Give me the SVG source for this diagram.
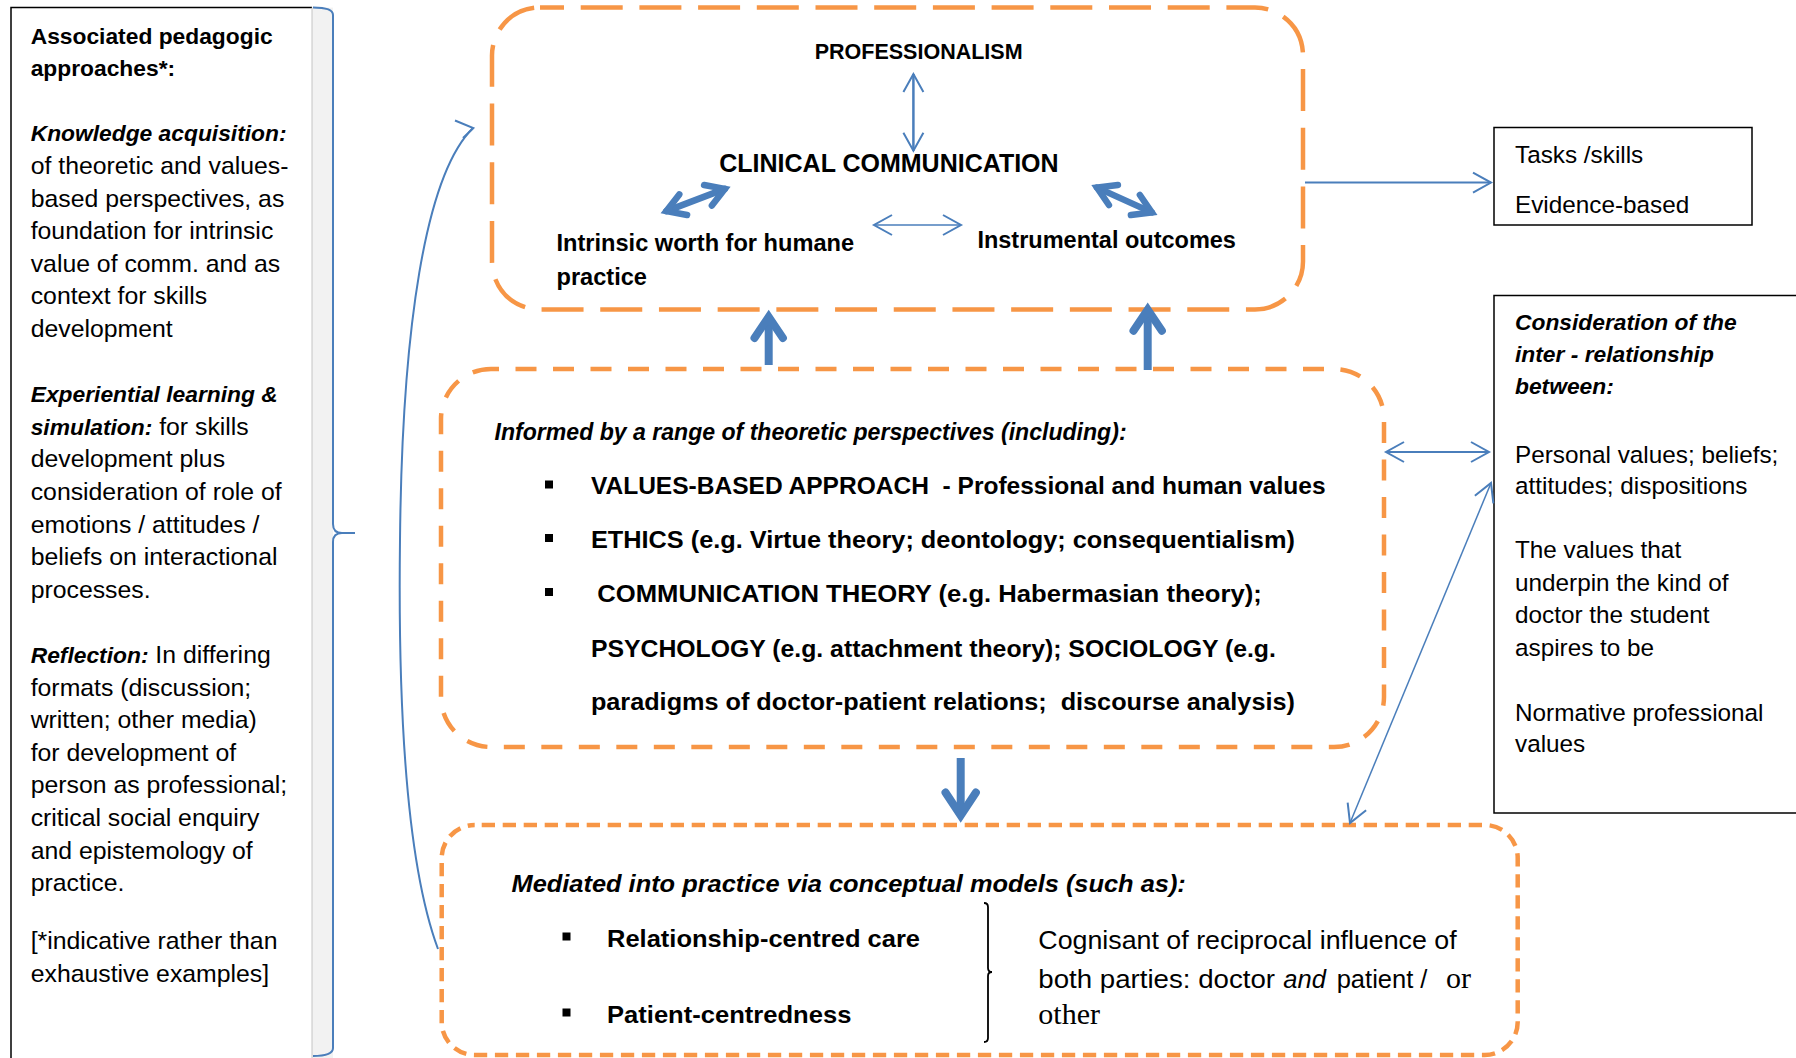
<svg xmlns="http://www.w3.org/2000/svg" width="1796" height="1058" viewBox="0 0 1796 1058">
<style>
text{font-family:"Liberation Sans",Arial,sans-serif;fill:#000}
.lr{font-size:24.8px}
.rr{font-size:24.3px}
.lb{font-size:22.8px;font-weight:bold}
.lbi{font-size:22.8px;font-weight:bold;font-style:italic}
.c{font-weight:bold}
.ci{font-weight:bold;font-style:italic}
.sf{font-family:"Liberation Serif","Times New Roman",serif}
.ob{fill:none;stroke:#F79646;stroke-width:4.5}
.d1{stroke-dasharray:42 16.7;stroke-dashoffset:18}
.d2{stroke-dasharray:21 16.5;stroke-dashoffset:13}
.d3{stroke-dasharray:13.3 7.7;stroke-dashoffset:14}
.bx{fill:#fff;stroke:#000;stroke-width:1.5}
.ln{fill:none;stroke:#4A7EBB}
.thk{fill:none;stroke:#4A7EBB;stroke-linecap:round;stroke-linejoin:miter}
.bul{fill:#000}
</style>
<defs>
<marker id="ah" viewBox="-21 -12 24 24" refX="0" refY="0" markerWidth="24" markerHeight="24" markerUnits="userSpaceOnUse" orient="auto-start-reverse" style="overflow:visible">
<path d="M-18,-10 L0,0 L-18,10" fill="none" stroke="#4A7EBB" stroke-width="2"/>
</marker>
</defs>
<rect width="1796" height="1058" fill="#fff"/>

<g id="left-panel">
<path d="M312,7.6 H11 V1062" fill="none" stroke="#000" stroke-width="1.5"/>
<rect x="312" y="7.6" width="21" height="1052" fill="#F2F2F2"/>
<line x1="312" y1="7.6" x2="312" y2="1058" stroke="#C4C4C4" stroke-width="1"/>
<text x="30.7" y="43.5" class="lb">Associated pedagogic</text>
<text x="30.7" y="76.1" class="lb">approaches*:</text>
<text x="30.7" y="141.3" class="lbi">Knowledge acquisition:</text>
<text x="30.7" y="173.9" class="lr">of theoretic and values-</text>
<text x="30.7" y="206.5" class="lr">based perspectives, as</text>
<text x="30.7" y="239.1" class="lr">foundation for intrinsic</text>
<text x="30.7" y="271.7" class="lr">value of comm. and as</text>
<text x="30.7" y="304.3" class="lr">context for skills</text>
<text x="30.7" y="336.9" class="lr">development</text>
<text x="30.7" y="402.1" class="lbi">Experiential learning &amp;</text>
<text x="30.7" y="434.7"><tspan class="lbi">simulation:</tspan><tspan class="lr"> for skills</tspan></text>
<text x="30.7" y="467.3" class="lr">development plus</text>
<text x="30.7" y="499.9" class="lr">consideration of role of</text>
<text x="30.7" y="532.5" class="lr">emotions / attitudes /</text>
<text x="30.7" y="565.1" class="lr">beliefs on interactional</text>
<text x="30.7" y="597.7" class="lr">processes.</text>
<text x="30.7" y="662.9"><tspan class="lbi">Reflection:</tspan><tspan class="lr"> In differing</tspan></text>
<text x="30.7" y="695.5" class="lr">formats (discussion;</text>
<text x="30.7" y="728.1" class="lr">written; other media)</text>
<text x="30.7" y="760.7" class="lr">for development of</text>
<text x="30.7" y="793.3" class="lr">person as professional;</text>
<text x="30.7" y="825.9" class="lr">critical social enquiry</text>
<text x="30.7" y="858.5" class="lr">and epistemology of</text>
<text x="30.7" y="891.1" class="lr">practice.</text>
<text x="30.7" y="949" class="lr">[*indicative rather than</text>
<text x="30.7" y="981.6" class="lr">exhaustive examples]</text>
</g>

<g id="top-box">
<rect class="ob d1" x="492" y="7.5" width="811" height="302" rx="48" ry="48"/>
<text x="814.7" y="59.3" class="c" font-size="21.5">PROFESSIONALISM</text>
<text x="719.3" y="171.7" class="c" font-size="25">CLINICAL COMMUNICATION</text>
<text x="556.5" y="250.7" class="c" font-size="23.6">Intrinsic worth for humane</text>
<text x="556.5" y="285" class="c" font-size="23.6">practice</text>
<text x="977.4" y="248" class="c" font-size="23.5">Instrumental outcomes</text>
</g>

<g id="middle-box">
<rect class="ob d2" x="441" y="369" width="943" height="378" rx="50" ry="50"/>
<text x="494.6" y="440" class="ci" font-size="23" textLength="632" lengthAdjust="spacingAndGlyphs">Informed by a range of theoretic perspectives (including):</text>
<rect class="bul" x="545" y="480.5" width="8" height="8"/>
<rect class="bul" x="545" y="534" width="8" height="8"/>
<rect class="bul" x="545" y="588" width="8" height="8"/>
<text x="590.9" y="494" class="c" font-size="24" textLength="734.7" lengthAdjust="spacingAndGlyphs" xml:space="preserve">VALUES-BASED APPROACH  - Professional and human values</text>
<text x="590.9" y="548.3" class="c" font-size="24" textLength="704" lengthAdjust="spacingAndGlyphs">ETHICS (e.g. Virtue theory; deontology; consequentialism)</text>
<text x="597.3" y="602.3" class="c" font-size="24" textLength="664.5" lengthAdjust="spacingAndGlyphs">COMMUNICATION THEORY (e.g. Habermasian theory);</text>
<text x="590.9" y="656.7" class="c" font-size="24" textLength="685" lengthAdjust="spacingAndGlyphs">PSYCHOLOGY (e.g. attachment theory); SOCIOLOGY (e.g.</text>
<text x="590.9" y="710" class="c" font-size="24" textLength="704" lengthAdjust="spacingAndGlyphs" xml:space="preserve">paradigms of doctor-patient relations;  discourse analysis)</text>
</g>

<g id="bottom-box">
<rect class="ob d3" x="441.7" y="825" width="1076" height="230" rx="33" ry="33"/>
<text x="511.5" y="891.7" class="ci" font-size="24" textLength="674.3" lengthAdjust="spacingAndGlyphs">Mediated into practice via conceptual models (such as):</text>
<rect class="bul" x="562.5" y="932.5" width="8" height="8"/>
<rect class="bul" x="562.5" y="1008.5" width="8" height="8"/>
<text x="607" y="946.7" class="c" font-size="24" textLength="313" lengthAdjust="spacingAndGlyphs">Relationship-centred care</text>
<text x="607" y="1023" class="c" font-size="24" textLength="244.4" lengthAdjust="spacingAndGlyphs">Patient-centredness</text>
<path d="M984,903 Q988,903 988,907 L988,968 Q988,972 992,972 Q988,972 988,976 L988,1038 Q988,1042 984,1042" fill="none" stroke="#000" stroke-width="1.8"/>
<text x="1038.3" y="949.3" font-size="25.5" textLength="418.4" lengthAdjust="spacingAndGlyphs">Cognisant of reciprocal influence of</text>
<text x="1038.3" y="987.7" font-size="25.5" textLength="236.7" lengthAdjust="spacingAndGlyphs">both parties: doctor</text>
<text x="1283.3" y="987.7" font-size="25.5" font-style="italic">and</text>
<text x="1336.7" y="987.7" font-size="25.5">patient /</text>
<text x="1446" y="987.7" class="sf" font-size="30">or</text>
<text x="1038.3" y="1024" class="sf" font-size="30">other</text>
</g>

<g id="tasks-box">
<rect class="bx" x="1494" y="127.5" width="258" height="97.5"/>
<text x="1515" y="163.4" class="rr">Tasks /skills</text>
<text x="1515" y="212.5" class="rr">Evidence-based</text>
</g>

<g id="consideration-box">
<rect class="bx" x="1494" y="295.5" width="320" height="517.5"/>
<text x="1515" y="329.6" class="lbi">Consideration of the</text>
<text x="1515" y="361.7" class="lbi">inter - relationship</text>
<text x="1515" y="393.8" class="lbi">between:</text>
<text x="1515" y="462.7" class="rr">Personal values; beliefs;</text>
<text x="1515" y="494" class="rr">attitudes; dispositions</text>
<text x="1515" y="558" class="rr">The values that</text>
<text x="1515" y="591" class="rr">underpin the kind of</text>
<text x="1515" y="623" class="rr">doctor the student</text>
<text x="1515" y="655.6" class="rr">aspires to be</text>
<text x="1515" y="720.8" class="rr">Normative professional</text>
<text x="1515" y="752" class="rr">values</text>
</g>

<g id="connectors">
<path class="ln" stroke-width="2" d="M313,7.6 Q333,7.6 333,15 L333,524 Q333,533 342,533 L355,533 M342,533 Q333,533 333,542 L333,1048 Q333,1056 313,1056"/>
<path class="ln" stroke-width="2" d="M438,949 C405,860 398,700 400,540 C402,330 425,175 473,128"/>
<path class="ln" stroke-width="2" d="M455,120.5 L473.3,128.1 L463,138"/>
<line class="ln" x1="913.4" y1="74" x2="913.4" y2="150.7" stroke-width="2.5" marker-start="url(#ah)" marker-end="url(#ah)"/>
<line class="ln" x1="874" y1="225" x2="961" y2="225" stroke-width="1.5" marker-start="url(#ah)" marker-end="url(#ah)"/>
<line class="ln" x1="1305" y1="182.6" x2="1491" y2="182.6" stroke-width="2" marker-end="url(#ah)"/>
<line class="ln" x1="1386" y1="452" x2="1489" y2="452" stroke-width="2" marker-start="url(#ah)" marker-end="url(#ah)"/>
<line class="ln" x1="1491" y1="483" x2="1350" y2="823" stroke-width="1.5" marker-start="url(#ah)" marker-end="url(#ah)"/>
<g class="thk" stroke-width="6.5">
<path d="M666.4,211.1 L724.8,188.9"/>
<path d="M711.9,205.6 L724.8,188.9 L704.1,185"/>
<path d="M687.1,215 L666.4,211.1 L679.3,194.4"/>
<path d="M1097,187.6 L1151.8,212.4"/>
<path d="M1130.9,215 L1151.8,212.4 L1139.9,195"/>
<path d="M1108.9,205 L1097,187.6 L1117.9,185"/>
</g>
<g class="thk" stroke-width="8">
<path d="M768.7,365 L768.7,317" stroke-linecap="butt"/>
<path d="M754.5,338 L768.7,317 L782.9,338"/>
<path d="M1147.7,370 L1147.7,309.7" stroke-linecap="butt"/>
<path d="M1133.5,330.7 L1147.7,309.7 L1161.9,330.7"/>
<path d="M960.7,758 L960.7,815.5" stroke-linecap="butt"/>
<path d="M945.5,792.5 L960.7,815.5 L975.9,792.5"/>
</g>
</g>
</svg>
